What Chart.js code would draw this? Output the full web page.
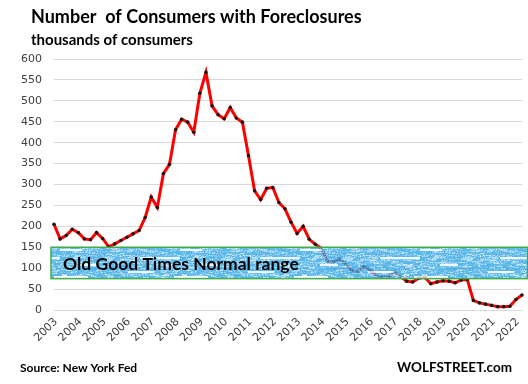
<!DOCTYPE html>
<html>
<head>
<meta charset="utf-8">
<script src="https://cdn.jsdelivr.net/npm/chart.js@4.4.0/dist/chart.umd.min.js"></script>
<style>
html, body { margin: 0; padding: 0; background: #fff; }
#wrap { width: 528px; height: 384px; }
</style>
</head>
<body>
<div id="wrap"><canvas id="foreclosureChart" width="528" height="384"></canvas></div>
<script>
// 年（四半期ごと、Q1 の位置に年ラベル）
const years = [2003, 2004, 2005, 2006, 2007, 2008, 2009, 2010, 2011, 2012,
               2013, 2014, 2015, 2016, 2017, 2018, 2019, 2020, 2021, 2022];
const quarters = ['Q1', 'Q2', 'Q3', 'Q4'];

// 差し押さえを受けた消費者数（千人）2003Q1〜2022Q2
const consumers = [
    205, 170, 178, 193, 185, 170, 168, 185, 171, 151,
    158, 166, 174, 182, 190, 221, 270, 245, 326, 348,
    431, 456, 449, 425, 518, 568, 488, 467, 457, 484,
    459, 449, 369, 285, 264, 291, 293, 257, 242, 210,
    183, 200, 169, 157, 147, 116, 115, 122, 110, 94,
    92, 104, 96, 82, 80, 79, 90, 80, 69, 67,
    76, 78, 63, 67, 70, 69, 65, 72, 73, 23,
    17, 14, 11, 8, 8, 9, 25, 36
];

// "Old Good Times Normal range" の帯
const normalRange = [75, 150];
const yAxisRange = [0, 600, 50];

const titleText = 'Number  of Consumers with Foreclosures';
const subtitleText = 'thousands of consumers';
const bandText = 'Old Good Times Normal range';
const sourceText = 'Source: New York Fed';
const brandText = 'WOLFSTREET.com';

const labels = [];
years.forEach(y => quarters.forEach(q => labels.push(y + ' ' + q)));
labels.length = consumers.length;

// 幅に合わせてフォントサイズを決める
function fitFont(ctx, text, family, target) {
    let size = 30;
    while (size > 6) {
        ctx.font = 'bold ' + size + 'px ' + family;
        if (ctx.measureText(text).width <= target) break;
        size -= 0.5;
    }
    return ctx.font;
}

// 帯の模様（青地に横長の白い筋）
function makeBandPattern(ctx) {
    const c = document.createElement('canvas');
    c.width = 120; c.height = 40;
    const p = c.getContext('2d');
    p.fillStyle = '#30a4e4';
    p.fillRect(0, 0, c.width, c.height);
    for (let y = 0; y < c.height; y++) {
        for (let x = 0; x < c.width; x++) {
            const cell = Math.floor((x + y * 7) / 6);
            const n1 = Math.sin(cell * 12.9898 + y * 78.233) * 43758.5453;
            const n2 = Math.sin(x * 39.346 + y * 11.135) * 24634.6345;
            const f = (n1 - Math.floor(n1)) * 0.6 + (n2 - Math.floor(n2)) * 0.4;
            if (f > 0.42) {
                p.fillStyle = 'rgba(225,243,253,' + Math.min(1, (f - 0.42) * 1.8).toFixed(2) + ')';
                p.fillRect(x, y, 1, 1);
            }
        }
    }
    p.fillStyle = 'rgba(255,255,255,0.9)';
    [[4, 3, 30], [60, 9, 22], [20, 17, 40], [80, 24, 18], [8, 31, 26], [54, 36, 34]]
        .forEach(([x, y, w]) => p.fillRect(x, y, w, 2));
    return ctx.createPattern(c, 'repeat');
}

const bandPlugin = {
    id: 'band',
    afterDatasetsDraw(chart) {
        const { ctx, chartArea, scales } = chart;
        const top = scales.y.getPixelForValue(normalRange[1]);
        const bottom = scales.y.getPixelForValue(normalRange[0]);
        const left = chartArea.left - 3;
        const right = chart.width - 0.5;
        ctx.save();
        ctx.globalAlpha = 0.8;
        ctx.fillStyle = makeBandPattern(ctx);
        ctx.fillRect(left, top, right - left, bottom - top);
        ctx.globalAlpha = 1;
        ctx.strokeStyle = '#3fae49';
        ctx.lineWidth = 1.5;
        ctx.strokeRect(left, top, right - left, bottom - top);
        ctx.fillStyle = '#000';
        ctx.font = fitFont(ctx, bandText, 'Lato', 236);
        ctx.textBaseline = 'middle';
        ctx.fillText(bandText, 63, (top + bottom) / 2 + 1);
        ctx.restore();
    }
};

// x軸の年ラベル（45°回転）
const yearLabelPlugin = {
    id: 'yearLabels',
    afterDraw(chart) {
        const { ctx, chartArea, scales } = chart;
        ctx.save();
        ctx.fillStyle = '#404040';
        ctx.font = '11px "DejaVu Sans"';
        ctx.textAlign = 'right';
        ctx.textBaseline = 'middle';
        labels.forEach((lab, idx) => {
            if (idx % 4 !== 0) return;
            const x = scales.x.getPixelForValue(idx);
            ctx.save();
            ctx.translate(x + 2, chartArea.bottom + 10);
            ctx.rotate(-Math.PI / 4);
            ctx.fillText(lab.slice(0, 4), 0, 0);
            ctx.restore();
        });
        ctx.restore();
    }
};

const textPlugin = {
    id: 'texts',
    afterDraw(chart) {
        const ctx = chart.ctx;
        ctx.save();
        ctx.fillStyle = '#000';
        ctx.textBaseline = 'middle';
        ctx.font = fitFont(ctx, titleText, 'Lato', 331);
        ctx.fillText(titleText, 31, 17);
        ctx.font = fitFont(ctx, subtitleText, 'Lato', 162);
        ctx.fillText(subtitleText, 31, 40);
        ctx.font = fitFont(ctx, sourceText, 'Lato', 119);
        ctx.fillText(sourceText, 20, 368);
        ctx.textAlign = 'right';
        ctx.font = fitFont(ctx, brandText, 'Lato', 118);
        ctx.fillText(brandText, 512, 368);
        ctx.restore();
    }
};

new Chart(document.getElementById('foreclosureChart').getContext('2d'), {
    type: 'line',
    data: {
        labels: labels,
        datasets: [{
            label: 'Consumers with Foreclosures',
            data: consumers,
            borderColor: '#ff0000',
            borderWidth: 3,
            tension: 0,
            fill: false,
            pointRadius: 1.8,
            pointBorderWidth: 0,
            pointBackgroundColor: '#1a1a1a',
        }]
    },
    options: {
        responsive: false,
        animation: false,
        layout: { padding: { top: 59, left: 9, right: 6, bottom: 74 } },
        plugins: {
            legend: { display: false },
            tooltip: { enabled: false },
        },
        scales: {
            x: {
                grid: { display: false, drawTicks: false },
                border: { display: false },
                ticks: { display: false }
            },
            y: {
                min: yAxisRange[0],
                max: yAxisRange[1],
                grid: { color: '#d9d9d9', lineWidth: 1, drawTicks: false },
                border: { display: false },
                ticks: {
                    stepSize: yAxisRange[2],
                    padding: 12,
                    color: '#404040',
                    font: { family: 'DejaVu Sans', size: 11 },
                }
            }
        }
    },
    plugins: [bandPlugin, yearLabelPlugin, textPlugin]
});
</script>
</body>
</html>
